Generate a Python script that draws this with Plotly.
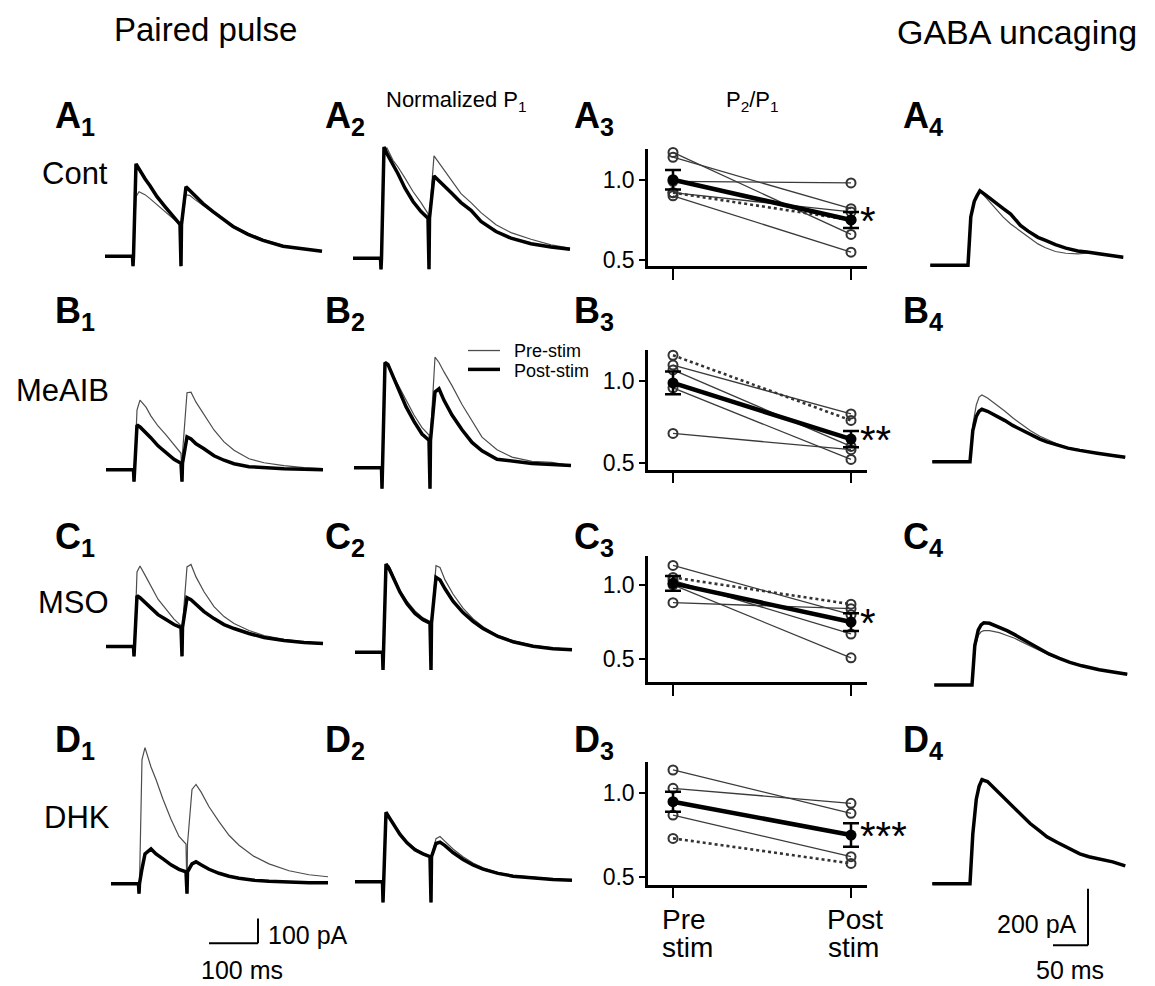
import plotly.graph_objects as go

# ---------------- DATA ----------------
# Paired-pulse traces (columns 1 and 2): time (ms) from first stimulus
pp_time = [-56, -1, 0, 1, 6, 12, 24, 34, 48, 64, 80, 94, 96, 97, 106, 114, 124,
           140, 160, 180, 200, 230, 260, 300, 340, 378]

# Column 1: raw currents (pA)
A1_pre  = [0, 0, -40, 0, 240, 260, 248, 232, 208, 180, 152, 128, -40, 128, 248, 244, 228, 204, 176, 148, 124, 92, 68, 44, 30, 20]
A1_post = [0, 0, -40, 0, 372, 350, 312, 284, 240, 200, 164, 128, -40, 128, 280, 264, 240, 212, 180, 148, 120, 88, 64, 40, 28, 20]
B1_pre  = [0, 0, -48, 0, 240, 280, 252, 216, 176, 140, 98, 66, -48, 66, 310, 312, 272, 224, 160, 112, 78, 44, 28, 16, 8, 4]
B1_post = [0, 0, -48, 0, 180, 172, 150, 128, 96, 68, 42, 26, -48, 26, 132, 124, 104, 84, 56, 38, 24, 12, 8, 4, 2, 0]
C1_pre  = [0, 0, -40, 0, 300, 324, 280, 240, 190, 150, 110, 84, -40, 84, 320, 330, 280, 220, 160, 120, 92, 64, 44, 28, 18, 12]
C1_post = [0, 0, -40, 0, 204, 196, 172, 152, 128, 108, 88, 76, -40, 76, 196, 188, 168, 140, 112, 88, 72, 52, 36, 24, 16, 12]
D1_pre  = [0, 0, -40, 0, 500, 548, 470, 420, 340, 260, 190, 160, -40, 160, 380, 400, 370, 310, 250, 195, 155, 110, 80, 52, 36, 28]
D1_post = [0, 0, -40, 0, 60, 120, 140, 120, 100, 76, 58, 48, -40, 48, 80, 88, 76, 58, 42, 30, 22, 14, 10, 6, 4, 4]

# Column 2: normalized to P1 peak
A2_pre  = [0, 0, -0.1, 0, 0.98, 0.99, 0.88, 0.82, 0.72, 0.60, 0.50, 0.40, -0.1, 0.40, 0.92, 0.87, 0.80, 0.70, 0.58, 0.50, 0.41, 0.30, 0.23, 0.17, 0.12, 0.09]
A2_post = [0, 0, -0.1, 0, 1.00, 0.94, 0.84, 0.76, 0.63, 0.51, 0.42, 0.36, -0.1, 0.36, 0.74, 0.70, 0.66, 0.59, 0.50, 0.43, 0.33, 0.24, 0.18, 0.13, 0.10, 0.08]
B2_pre  = [0, 0, -0.2, 0, 0.98, 0.99, 0.86, 0.77, 0.64, 0.50, 0.38, 0.31, -0.2, 0.31, 1.05, 1.00, 0.91, 0.78, 0.60, 0.44, 0.29, 0.17, 0.10, 0.06, 0.05, 0.02]
B2_post = [0, 0, -0.2, 0, 1.00, 0.98, 0.84, 0.74, 0.58, 0.44, 0.32, 0.26, -0.2, 0.26, 0.72, 0.75, 0.64, 0.50, 0.36, 0.24, 0.16, 0.08, 0.06, 0.04, 0.03, 0.02]
C2_pre  = [0, 0, -0.2, 0, 0.98, 0.98, 0.82, 0.70, 0.58, 0.47, 0.39, 0.35, -0.2, 0.35, 0.98, 0.96, 0.82, 0.66, 0.50, 0.38, 0.29, 0.19, 0.13, 0.08, 0.05, 0.03]
C2_post = [0, 0, -0.2, 0, 1.00, 0.95, 0.80, 0.68, 0.55, 0.44, 0.37, 0.33, -0.2, 0.33, 0.85, 0.82, 0.72, 0.58, 0.45, 0.35, 0.27, 0.18, 0.12, 0.07, 0.04, 0.03]
D2_pre  = [0, 0, -0.3, 0, 0.98, 0.95, 0.80, 0.70, 0.58, 0.48, 0.41, 0.37, -0.3, 0.37, 0.62, 0.65, 0.58, 0.47, 0.36, 0.27, 0.20, 0.13, 0.09, 0.06, 0.04, 0.02]
D2_post = [0, 0, -0.3, 0, 1.00, 0.93, 0.78, 0.68, 0.56, 0.46, 0.40, 0.36, -0.3, 0.36, 0.55, 0.57, 0.52, 0.42, 0.32, 0.24, 0.18, 0.12, 0.08, 0.05, 0.03, 0.02]

# Column 4: GABA uncaging currents (pA), time (ms) from uncaging
gaba_time = [-54, -2, 0, 4, 9, 13, 17, 25, 39, 50, 61, 75, 86, 100, 110, 125, 140, 157, 170, 182, 204, 222]
A4_pre  = [0, 0, 0, 170, 225, 245, 260, 240, 200, 170, 145, 120, 100, 75, 62, 48, 42, 40, 42, 42, 35, 25]
A4_post = [0, 0, 0, 170, 225, 245, 262, 248, 220, 200, 180, 140, 120, 98, 88, 72, 60, 50, 46, 42, 35, 28]
B4_pre  = [0, 0, 0, 130, 200, 228, 235, 225, 200, 178, 155, 128, 110, 90, 78, 62, 50, 42, 36, 30, 22, 16]
B4_post = [0, 0, 0, 110, 160, 178, 185, 178, 160, 145, 128, 110, 96, 80, 70, 58, 48, 40, 34, 30, 22, 16]
C4_pre  = [0, 0, 0, 130, 175, 188, 192, 192, 185, 175, 165, 148, 135, 118, 106, 92, 79, 68, 60, 54, 45, 38]
C4_post = [0, 0, 0, 140, 195, 212, 220, 218, 205, 192, 178, 158, 142, 122, 110, 94, 80, 68, 60, 54, 45, 38]
D4_pre  = [0, 0, 0, 170, 295, 345, 372, 362, 328, 302, 272, 240, 214, 187, 167, 146, 126, 107, 96, 88, 76, 62]
D4_post = [0, 0, 0, 175, 298, 343, 366, 360, 326, 300, 270, 238, 212, 185, 165, 145, 125, 105, 95, 88, 77, 63]

# Column 3: P2/P1 ratio, individual cells (solid), one dotted cell, mean +/- SEM
ratio_cats = [["Pre", "stim"], ["Post", "stim"]]
A3_pre  = [1.17, 1.14, 0.99, 0.90, 0.92]
A3_post = [0.66, 0.82, 0.98, 0.55, 0.80]
A3_dot  = [0.92, 0.75]
A3_mean = [1.00, 0.75]
A3_sem  = [0.06, 0.05]
B3_pre  = [1.10, 1.07, 0.96, 0.68]
B3_post = [0.80, 0.60, 0.52, 0.58]
B3_dot  = [1.16, 0.76]
B3_mean = [0.99, 0.645]
B3_sem  = [0.07, 0.05]
C3_pre  = [1.13, 0.88, 1.00, 1.03]
C3_post = [0.80, 0.84, 0.51, 0.67]
C3_dot  = [1.05, 0.87]
C3_mean = [1.01, 0.75]
C3_sem  = [0.05, 0.06]
D3_pre  = [1.14, 1.03, 0.87]
D3_post = [0.88, 0.94, 0.62]
D3_dot  = [0.73, 0.58]
D3_mean = [0.95, 0.75]
D3_sem  = [0.06, 0.07]
signif = ["*", "**", "*", "***"]

# ---------------- LAYOUT HELPERS ----------------
W, H = 1155, 986          # page size
OX, OY = 8, 8             # default body margin of the html page
FW, FH = W - OX, H - OY   # figure size
FONT = "Liberation Sans, Arial, Helvetica, sans-serif"


def fx(x):
    return (x - OX) / FW


def fy(y):
    return 1 - (y - OY) / FH


fig = go.Figure()
layout = dict(width=FW, height=FH, margin=dict(l=0, r=0, t=0, b=0),
              paper_bgcolor="white", plot_bgcolor="rgba(0,0,0,0)",
              showlegend=False, font=dict(family=FONT, color="black"))
ax_count = [0]


def new_axes(x0, x1, y0, y1, xr, yr, xkw=None, ykw=None):
    ax_count[0] += 1
    i = ax_count[0]
    sfx = "" if i == 1 else str(i)
    xd = dict(domain=[fx(x0), fx(x1)], range=xr, anchor="y" + sfx, fixedrange=True,
              showgrid=False, zeroline=False)
    yd = dict(domain=[fy(y1), fy(y0)], range=yr, anchor="x" + sfx, fixedrange=True,
              showgrid=False, zeroline=False)
    xd.update(xkw if xkw is not None else dict(visible=False))
    yd.update(ykw if ykw is not None else dict(visible=False))
    layout["xaxis" + sfx] = xd
    layout["yaxis" + sfx] = yd
    return "x" + sfx, "y" + sfx


def trace_panel(t, pre, post, xs, yb, ms_px, u_px, left, right, up, down):
    xr, yr = new_axes(xs - left, xs + right, yb - up, yb + down,
                      [-left * ms_px, right * ms_px], [-down * u_px, up * u_px])
    fig.add_trace(go.Scatter(x=t, y=pre, mode="lines", xaxis=xr, yaxis=yr,
                             line=dict(color="#4d4d4d", width=1.2), hoverinfo="skip"))
    fig.add_trace(go.Scatter(x=t, y=post, mode="lines", xaxis=xr, yaxis=yr,
                             line=dict(color="black", width=3.5), hoverinfo="skip"))


# Column 1 (2 ms/px, 4 pA/px)
for pre, post, xs, yb in [(A1_pre, A1_post, 133, 258), (B1_pre, B1_post, 134, 473),
                          (C1_pre, C1_post, 134, 651), (D1_pre, D1_post, 139, 890)]:
    trace_panel(pp_time, pre, post, xs, yb, 2.0, 4.0, 40, 200, 150, 22)

# Column 2 (normalized)
for pre, post, xs, yb, pk in [(A2_pre, A2_post, 381, 260, 112), (B2_pre, B2_post, 382, 471, 106),
                              (C2_pre, C2_post, 383, 657, 89), (D2_pre, D2_post, 383, 888, 70)]:
    trace_panel(pp_time, pre, post, xs, yb, 2.0, 1.0 / pk, 40, 200, 150, 22)

# Column 4 (1.43 ms/px, 3.5 pA/px)
for pre, post, xs, yb in [(A4_pre, A4_post, 968, 267), (B4_pre, B4_post, 970, 465),
                          (C4_pre, C4_post, 972, 690), (D4_pre, D4_post, 970, 890)]:
    trace_panel(gaba_time, pre, post, xs, yb, 1.43, 3.5, 45, 165, 130, 20)

ann = []


def px_ann(text, x, y, size, xanchor="center", yanchor="middle"):
    ann.append(dict(text=text, xref="paper", yref="paper", x=fx(x), y=fy(y),
                    xanchor=xanchor, yanchor=yanchor, showarrow=False,
                    font=dict(size=size, family=FONT, color="black")))


# Column 3 ratio panels
ratio_rows = [
    (A3_pre, A3_post, A3_dot, A3_mean, A3_sem, (150, 181, 262, 268)),
    (B3_pre, B3_post, B3_dot, B3_mean, B3_sem, (352, 384, 466, 473)),
    (C3_pre, C3_post, C3_dot, C3_mean, C3_sem, (560, 589, 664, 687)),
    (D3_pre, D3_post, D3_dot, D3_mean, D3_sem, (767, 799, 883, 891)),
]
X_LEFT, X_PRE, X_POST, X_RIGHT = 648, 673, 851, 867
for r, (pre, post, dot, mean, sem, (ytop, y1, y05, ybot)) in enumerate(ratio_rows):
    ppu = (y05 - y1) / 0.5
    upx = X_POST - X_PRE
    xr = [(X_LEFT - X_PRE) / upx, (X_RIGHT - X_PRE) / upx]
    yr = [1.0 - (ybot - y1) / ppu, 1.0 + (y1 - ytop) / ppu]
    xkw = dict(visible=True, showline=True, linecolor="black", linewidth=2.5,
               ticks="outside", ticklen=11, tickwidth=2.2, tickcolor="black",
               tickvals=[0, 1], ticktext=["", ""], range=xr)
    ykw = dict(visible=True, showline=True, linecolor="black", linewidth=2.5,
               ticks="outside", ticklen=6, tickwidth=2.2, tickcolor="black",
               tickvals=[0.5, 1.0], ticktext=["0.5", "1.0"],
               tickfont=dict(size=23, family=FONT), range=yr)
    xa, ya = new_axes(X_LEFT, X_RIGHT, ytop, ybot, xr, yr, xkw, ykw)
    lx, ly = [], []
    for a, b in zip(pre, post):
        lx += [0, 1, None]
        ly += [a, b, None]
    fig.add_trace(go.Scatter(x=lx, y=ly, mode="lines+markers", xaxis=xa, yaxis=ya, cliponaxis=False,
                             line=dict(color="#3a3a3a", width=1.3),
                             marker=dict(symbol="circle-open", size=9, color="#333333",
                                         line=dict(width=2)), hoverinfo="skip"))
    fig.add_trace(go.Scatter(x=[0, 1], y=dot, mode="lines+markers", xaxis=xa, yaxis=ya, cliponaxis=False,
                             line=dict(color="#333333", width=2.6, dash="dot"),
                             marker=dict(symbol="circle-open", size=9, color="#333333",
                                         line=dict(width=2)), hoverinfo="skip"))
    fig.add_trace(go.Scatter(x=[0, 1], y=mean, mode="lines+markers", xaxis=xa, yaxis=ya, cliponaxis=False,
                             line=dict(color="black", width=4.5),
                             marker=dict(symbol="circle", size=11, color="black"),
                             error_y=dict(type="data", array=sem, color="black", thickness=2.5, width=8),
                             hoverinfo="skip"))
    # significance stars
    ann.append(dict(text=signif[r], xref=xa, yref=ya, x=1.04, y=mean[1], xanchor="left",
                    yanchor="middle", yshift=-1, showarrow=False, font=dict(size=40, family=FONT)))

# category labels under the last ratio panel
for (l1, l2), xc1, xc2 in zip(ratio_cats, [684, 855], [687, 853]):
    px_ann(l1, xc1, 926, 28)
    px_ann(l2, xc2, 954, 28)

# titles
px_ann("Paired pulse", 205, 30, 33)
px_ann("GABA uncaging", 1017, 32, 34)
px_ann("Normalized P<sub>1</sub>", 457, 102, 22)
px_ann("P<sub>2</sub>/P<sub>1</sub>", 752, 102, 22)

# panel letters
for letter, yc in zip("ABCD", [116, 312, 540, 744]):
    for col, xl in zip([1, 2, 3, 4], [53, 323, 572, 901]):
        px_ann(f"<b>{letter}<sub>{col}</sub></b>", xl, yc + 3, 36, xanchor="left")

# row labels
for lab, xc, yc in [("Cont", 75, 175), ("MeAIB", 62, 393), ("MSO", 73, 607), ("DHK", 77, 823)]:
    px_ann(lab, xc, yc, 31)

# legend in B2
shapes = []
shapes.append(dict(type="line", xref="paper", yref="paper", x0=fx(468), x1=fx(500),
                   y0=fy(353), y1=fy(353), line=dict(color="#4d4d4d", width=1.3)))
shapes.append(dict(type="line", xref="paper", yref="paper", x0=fx(468), x1=fx(500),
                   y0=fy(372), y1=fy(372), line=dict(color="black", width=3.5)))
px_ann("Pre-stim", 512, 353, 18, xanchor="left")
px_ann("Post-stim", 512, 374, 18, xanchor="left")

# scale bars
for x0, y0, x1, y1 in [(209, 950, 258, 950), (258, 950, 258, 925),
                       (1053, 952, 1088, 952), (1088, 952, 1088, 895)]:
    shapes.append(dict(type="line", xref="paper", yref="paper", x0=fx(x0), x1=fx(x1),
                       y0=fy(y0), y1=fy(y1), line=dict(color="black", width=2)))
px_ann("100 pA", 266, 942, 25, xanchor="left")
px_ann("100 ms", 242, 977, 25)
px_ann("200 pA", 1079, 931, 25, xanchor="right")
px_ann("50 ms", 1070, 977, 25)

layout["annotations"] = ann
layout["shapes"] = shapes
fig.update_layout(**layout)
fig.write_html("out.html")
